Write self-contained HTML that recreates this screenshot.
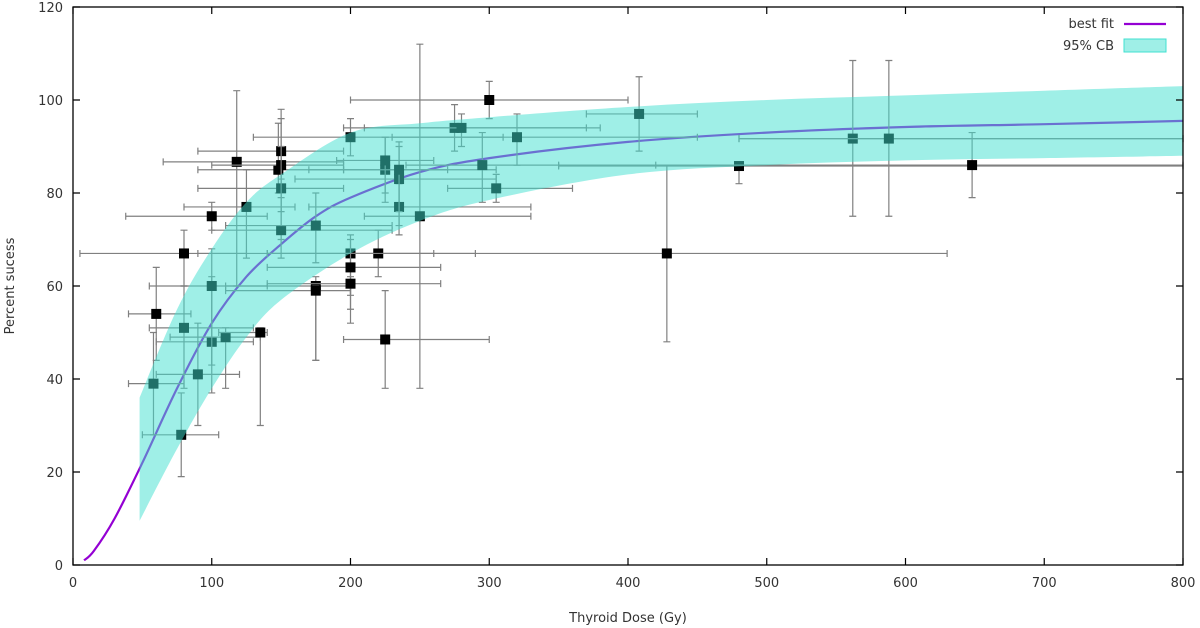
<!DOCTYPE html>
<html><head><meta charset="utf-8"><style>
body{margin:0;background:#fff;width:1200px;height:628px;overflow:hidden}
svg{display:block;font-family:"DejaVu Sans","Liberation Sans",sans-serif}
</style></head><body>
<svg id="chart" width="1200" height="628" viewBox="0 0 1200 628"></svg>
<script>
const xTicks=[0,100,200,300,400,500,600,700,800];
const yTicks=[0,20,40,60,80,100,120];
const fitX=[8,15,30,50,75,100,125,150,175,200,250,300,400,500,600,700,800];
const fitY=[1,3,10,22,38,52,62,69,75,79,84.5,87.5,91,93,94.2,94.8,95.5];
const bandX=[48,75,100,125,150,200,250,300,400,500,600,700,800];
const bandHi=[36,55,68,78,84,93,95,96.3,98.5,100,101,102,103];
const bandLo=[9.5,25,38,49,57,67,74,78.5,84,86,87,87.5,88];
const ptX=[58,60,78,80,80,90,100,100,100,110,118,125,135,148,150,150,150,150,175,175,175,200,200,200,200,220,225,225,225,235,235,235,250,275,280,295,300,305,320,408,428,480,562,588,648];
const ptY=[39,54,28,51,67,41,48,60,75,49,86.7,77,50,85,89,86,81,72,73,60,59,92,67,64,60.5,67,48.5,85,87,77,83,85,75,94,94,86,100,81,92,97,67,85.8,91.7,91.7,86];
const ptXLo=[40,40,50,55,5,60,60,55,38,70,65,80,105,90,90,100,90,100,110,110,110,130,140,140,140,140,195,195,190,170,160,170,210,195,210,240,200,270,230,370,90,350,480,480,350];
const ptXHi=[80,85,105,130,125,120,130,140,140,135,195,160,140,195,195,195,195,230,230,200,200,310,260,265,265,290,300,270,260,330,305,305,330,380,370,420,400,360,450,450,630,800,800,800,800];
const ptYLo=[28,44,19,38,60,30,37,43,72,38,60,66,30,80,79,76,70,66,65,44,44,88,58,55,52,62,38,80,78,71,73,76,38,89,90,78,96,78,86,89,48,82,75,75,79];
const ptYHi=[50,64,37,60,72,52,62,68,78,51,102,85,51,95,98,96,90,83,80,62,60,96,71,70,62,72,59,92,92,82,91,90,112,99,97,93,104,84,97,105,86,86,108.5,108.5,93];

const L=73,R=1183,T=7,B=565;
const sx=v=>L+(v-0)/800*(R-L);
const sy=v=>B-(v-0)/120*(B-T);
const svg=document.getElementById('chart');
const NS='http://www.w3.org/2000/svg';
function mk(tag,attrs,parent){const e=document.createElementNS(NS,tag);for(const k in attrs)e.setAttribute(k,attrs[k]);(parent||svg).appendChild(e);return e;}
// smooth path through screen points (Catmull-Rom)
function smooth(p,start){
  let d=(start||'M')+p[0][0].toFixed(1)+','+p[0][1].toFixed(1);
  for(let i=0;i<p.length-1;i++){
    const p0=p[i-1]||p[i],p1=p[i],p2=p[i+1],p3=p[i+2]||p2;
    const c1=[p1[0]+(p2[0]-p0[0])/6,p1[1]+(p2[1]-p0[1])/6];
    const c2=[p2[0]-(p3[0]-p1[0])/6,p2[1]-(p3[1]-p1[1])/6];
    d+=`C${c1[0].toFixed(1)},${c1[1].toFixed(1)} ${c2[0].toFixed(1)},${c2[1].toFixed(1)} ${p2[0].toFixed(1)},${p2[1].toFixed(1)}`;
  }
  return d;
}

const fl=mk('path',{d:smooth(fitX.map((x,i)=>[sx(x),sy(fitY[i])])),fill:'none',stroke:'#9400d3','stroke-width':2.2});



const g=mk('g',{});


ptX.forEach((x,i)=>{
  const cx=sx(x),cy=sy(ptY[i]);
  const x1=sx(ptXLo[i]),x2=sx(ptXHi[i]),y1=sy(ptYLo[i]),y2=sy(ptYHi[i]);
  const e=mk('path',{d:`M${x1},${cy}H${x2}M${x1},${cy-3.5}V${cy+3.5}M${x2},${cy-3.5}V${cy+3.5}M${cx},${y1}V${y2}M${cx-3.5},${y1}H${cx+3.5}M${cx-3.5},${y2}H${cx+3.5}`,stroke:'#808080','stroke-width':1.2,fill:'none'},g);
  
  
  const r=mk('rect',{x:cx-5,y:cy-5,width:10,height:10,fill:'#000'},g);
  
  
});

const hiPts=bandX.map((x,i)=>[sx(x),sy(bandHi[i])]);
const loPts=bandX.map((x,i)=>[sx(x),sy(bandLo[i])]).reverse();
const bd=smooth(hiPts)+smooth(loPts,'L')+'Z';
const band=mk('path',{d:bd,fill:'rgba(64,224,208,0.5)'});



const fr=mk('rect',{x:L,y:T,width:R-L,height:B-T,fill:'none',stroke:'#000','stroke-width':1.3});


xTicks.forEach(v=>{
  const x=sx(v);
  mk('path',{d:`M${x},${B}V${B-7}M${x},${T}V${T+7}`,stroke:'#000','stroke-width':1.2});
  const t=mk('text',{x:x,y:B+22,'text-anchor':'middle','font-size':13,fill:'#333'});
  t.textContent=v;
  
  
});
yTicks.forEach(v=>{
  const y=sy(v);
  mk('path',{d:`M${L},${y}H${L+7}M${R},${y}H${R-7}`,stroke:'#000','stroke-width':1.2});
  const t=mk('text',{x:L-10,y:y+5,'text-anchor':'end','font-size':13,fill:'#333'});
  t.textContent=v;
  
  
});
const xt=mk('text',{x:628,y:622,'text-anchor':'middle','font-size':13,fill:'#333'});
xt.textContent='Thyroid Dose (Gy)';


const yt=mk('text',{x:0,y:0,transform:'translate(14,286) rotate(-90)','text-anchor':'middle','font-size':13,fill:'#333'});
yt.textContent='Percent sucess';



const lg=mk('g',{});


const l1=mk('text',{x:1114,y:28,'text-anchor':'end','font-size':13,fill:'#333'},lg);l1.textContent='best fit';


mk('path',{d:'M1124,24H1166',stroke:'#9400d3','stroke-width':2.2},lg);
const l2=mk('text',{x:1114,y:50,'text-anchor':'end','font-size':13,fill:'#333'},lg);l2.textContent='95% CB';


mk('rect',{x:1124,y:39,width:42,height:13,fill:'rgba(64,224,208,0.5)',stroke:'#40e0d0'},lg);
</script>
</body></html>
